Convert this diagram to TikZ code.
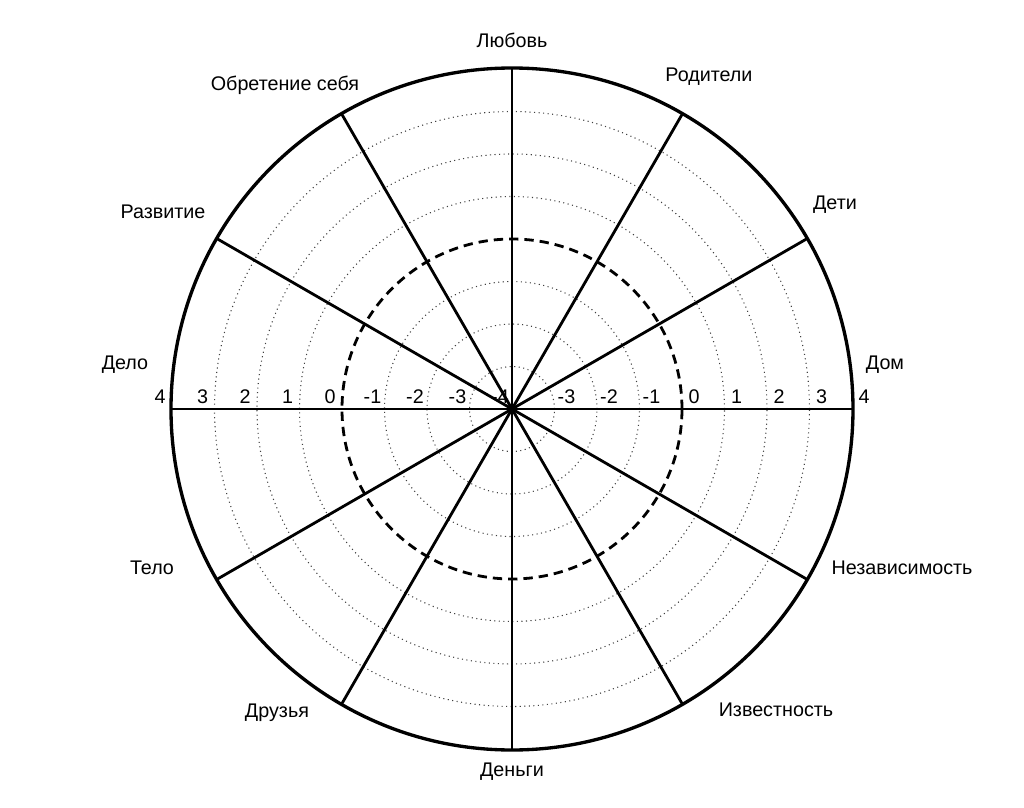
\documentclass[tikz,border=0pt]{standalone}
\usepackage{fontspec}
\setmainfont{Liberation Sans}

\begin{document}
\begin{tikzpicture}[x=0.75pt,y=0.75pt,
    rim/.style={line width=2.5pt},
    spoke/.style={line width=2.1pt},
    ring/.style={line width=0.8pt, dash pattern=on 0.8pt off 2.6pt, black!75},
    zeroring/.style={line width=2.1pt, dash pattern=on 7pt off 4.5pt},
    area/.style={font=\fontsize{14.8}{17}\selectfont, inner sep=0pt},
    num/.style={font=\fontsize{14.8}{17}\selectfont, inner sep=0pt}]
  \useasboundingbox (-512,-398) rectangle (512,409);
  \coordinate (c) at (0,0);
  % rings
  \foreach \k in {1,2,3,5,6,7}
    \draw[ring] (c) circle (42.5*\k);
  \draw[zeroring] (c) circle (170);
  % scale
  \foreach \v [count=\i] in {-4,...,4}
    \node[num] (nl\i) at ({-((\v+4)*42.5+12)},12) {\v};
  \foreach \v [count=\i] in {-3,...,4}
    \node[num] (nr\i) at ({(\v+4)*42.5+12},12) {\v};
  % spokes
  \foreach \a in {0,30,...,330} {
    \coordinate (s\a) at (\a:341);
    \draw[spoke] (c) -- (s\a);
  }
  \draw[rim] (c) circle (341);
  % areas
  \node[area] (love)     at (0,369)     {Любовь};
  \node[area] (parents)  at (197,332)   {Родители};
  \node[area] (children) at (323,204)   {Дети};
  \node[area] (home)     at (373,44)    {Дом};
  \node[area] (freedom)  at (390,-159)  {Независимость};
  \node[area] (fame)     at (264,-301)  {Известность};
  \node[area] (money)    at (0,-363)    {Деньги};
  \node[area] (friends)  at (-235,-304) {Друзья};
  \node[area] (body)     at (-360,-159) {Тело};
  \node[area] (work)     at (-387,44)   {Дело};
  \node[area] (growth)   at (-349,197)  {Развитие};
  \node[area] (self)     at (-227,324)  {Обретение себя};
\end{tikzpicture}
\end{document}
